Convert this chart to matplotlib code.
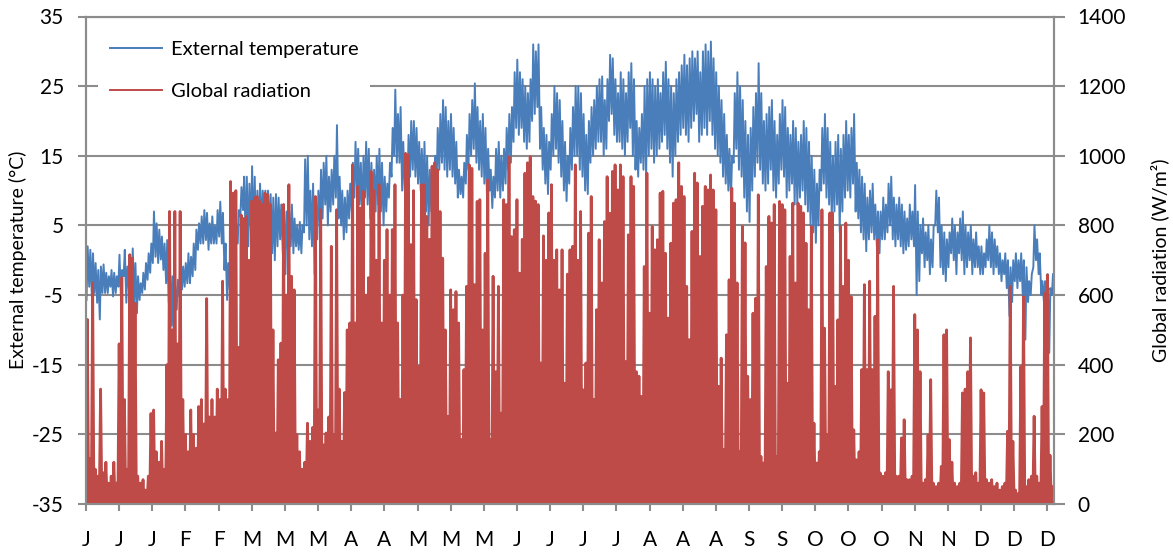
import numpy as np
import matplotlib.pyplot as plt

plt.rcParams['font.family'] = ['Lato', 'DejaVu Sans']
plt.rcParams['axes.unicode_minus'] = False

# daily maximum temperature (degC), day 0 = 1 Jan
t_max = [2.0, 1.5, 1.0, -0.4, -1.4, -0.9, -0.6, -1.8, -2.3, -1.4,
         -1.8, -2.3, 0.8, -1.4, 1.5, -0.9, -1.8, 1.7, -0.4, -2.3,
         -3.3, -1.8, -0.4, 1.0, 2.4, 7.0, 5.3, 4.4, 3.4, 2.4,
         2.9, -0.4, -2.3, -3.7, -2.8, -1.4, -0.9, -0.4, 1.0, 0.5,
         2.4, 4.4, 5.3, 6.3, 7.2, 6.8, 5.3, 6.3, 4.9, 7.2,
         8.4, 6.8, 2.4, -0.4, 1.5, 2.9, 5.3, 7.2, 10.5, 12.0,
         12, 11, 13.5, 12, 10, 11, 10, 10, 10, 9.5,
         9, 9.5, 9, 8, 8, 7, 7, 8, 6, 5,
         5.5, 5, 14.5, 15, 10, 11, 9, 10, 13, 14,
         15, 12, 13, 15, 19.4, 12, 10, 9, 10, 11,
         14, 17, 16, 14, 15, 17, 16, 14, 13, 15,
         16, 14, 12, 11, 14, 19, 24.5, 21, 22, 17,
         14, 18, 20, 20, 19, 17, 16, 17, 15, 13,
         12, 15, 19, 21, 23, 22, 20, 21, 19, 17,
         13, 12, 14, 18, 21, 23, 25.4, 22, 20, 21,
         19, 16, 13, 12, 16, 17, 15, 16, 19, 21,
         22, 27, 28.8, 27, 26, 25, 24, 26, 31, 30,
         31, 22, 19, 18, 17, 21, 25, 24, 23, 20,
         17, 15, 19, 22, 25, 25, 24, 21, 18, 20,
         22, 23, 25, 26, 26.4, 23, 26, 29.5, 29, 26,
         24, 27, 26, 24, 27, 28.3, 26, 20, 19, 21,
         25, 26, 27, 26, 25, 26, 24, 27, 28.5, 26,
         25, 24, 26, 27, 28, 29.5, 28, 29, 30, 29,
         30, 27, 30, 31, 30, 31.4, 29, 27, 25, 23,
         21, 18, 16, 15, 24, 27, 25, 23, 20, 18,
         19, 22, 24, 28.3, 24, 20, 21, 22, 23, 20,
         18, 21, 23, 22, 19, 18, 20, 19, 17, 18,
         20, 19, 17, 15, 13, 11, 13, 19, 21, 19,
         17, 15, 17, 18, 16, 18, 20, 18, 19, 21,
         14, 13, 12, 11, 9, 10, 11, 8, 7, 7,
         9, 8, 11, 12, 9, 8, 9, 8, 7, 6,
         8, 7, 10.8, 7, 5, 6, 4, 5, 3, 5,
         10, 9, 5, 4, 3, 4, 6, 5, 4, 6,
         7, 5, 4, 5, 3, 4, 2, 2, 1, 3,
         5, 4, 3, 2, 1, 0, 1, 0, -1, 0,
         1, 0, 1, 0, -1, -3, -2, 5, 3, 1,
         -3, -3, -2, -4, -2]

# daily minimum temperature (degC)
t_min = [-5.7, -3.8, -5.2, -4.7, -6.1, -8.5, -4.7, -4.7, -4.7, -3.8,
         -5.2, -4.7, -3.8, -5.7, -2.3, -6.1, -4.2, -4.2, -6.1, -7.6,
         -5.7, -4.7, -4.2, -2.8, -1.8, -0.4, 0.5, -0.4, 0.1, -1.4,
         -3.3, -6.1, -9.4, -13.1, -7.1, -5.2, -4.2, -3.8, -3.3, -3.3,
         -2.3, -1.4, 1.5, 2.4, 2.4, 2.9, 1.5, 2.4, 2.4, 2.4,
         3.4, 2.4, -1.4, -5.7, -4.2, -1.4, 0.5, 2.4, 6.3, 7.2,
         3, 2, 4, 2, 0, 3, 4, 3, 2, 4,
         1, 0, 2, 3, 1, -2, 1, 2, 1, 2,
         1.5, 1, 4, 5, 3, 2, -2, 3, 5, 6,
         8, 5, 7, 8, 9, 6, 5, 3, 4, 6,
         7, 9, 10, 8, 6, 9, 8, 6, 5, 7,
         8, 7, 5, 7, 9, 12, 15, 14, 14, 10,
         10, 10, 12, 13, 12, 11, 10, 9, 7, 5,
         7, 9, 11, 13, 14, 13, 12, 13, 12, 11,
         9, 9.5, 9, 11, 13, 15, 16, 14, 13, 12,
         11, 9, 10, 7.5, 9, 10, 9, 10, 11, 13,
         14, 17, 19, 18, 19, 17, 16, 17, 20, 21,
         22, 16, 13, 11, 9.5, 13, 15, 16, 14, 12,
         10, 8.5, 11, 13, 15, 15, 13, 12, 10, 9.5,
         14, 15, 16, 17, 17, 15, 16, 20, 21, 18,
         17, 17, 16, 15, 17, 19, 15, 13, 12, 14,
         13, 12, 15, 16, 14, 15, 16, 17, 18, 16,
         14, 12, 15, 17, 18, 19, 18, 17, 19, 20,
         21, 17, 18, 19, 18, 20, 18, 16, 15, 14,
         12, 11, 10, 9, 14, 16, 13, 12, 9, 7,
         5.5, 10, 12, 14, 13, 11, 10, 11, 13, 10,
         9, 11, 13, 12, 9, 10, 11, 8, 8, 9,
         10, 8, 7, 5, 4, 2.5, 5, 10, 11, 9,
         8, 6, 7, 8, 4, 7, 9, 10, 9, 11,
         7, 6, 4, 3, 1.3, 3, 4, 3, 2, 1,
         3, 3, 4, 5, 3, 2, 3, 2, 1, 1.5,
         2, 3, 2, -5, -3, 1, -1, 0, -2, -1,
         5, 4, -1, -2, -3, -1, 1, 0, -2, 1,
         0, -2, -1, 0, -2, -1, -1, -2, -2, -1,
         0, -1, -2, -1, -2, -3, -2, -4, -8, -6,
         -3, -4, -3, -5, -11.4, -6, -5, -1, 0, -2,
         -5, -6, -5, -13.3, -5]

# daily peak of global radiation (W/m2)
rad_peak = [530, 130, 635, 100, 80, 330, 90, 120, 60, 80,
            120, 60, 460, 650, 300, 100, 716, 706, 577, 80,
            60, 70, 40, 80, 260, 270, 150, 120, 180, 100,
            400, 840, 500, 840, 460, 840, 300, 200, 150, 270,
            200, 160, 280, 300, 230, 590, 250, 300, 250, 330,
            300, 640, 330, 300, 926, 893, 900, 450, 830, 820,
            826, 700, 870, 880, 883, 870, 860, 893, 888, 860,
            500, 204, 414, 462, 860, 600, 917, 654, 615, 200,
            150, 100, 120, 232, 180, 220, 883, 270, 845, 170,
            204, 250, 740, 200, 845, 330, 180, 320, 500, 520,
            974, 520, 912, 850, 898, 600, 650, 955, 900, 700,
            917, 520, 700, 788, 600, 788, 917, 520, 300, 600,
            1007, 1003, 745, 900, 587, 395, 917, 917, 826, 760,
            970, 980, 960, 840, 706, 500, 252, 615, 558, 610,
            520, 185, 386, 625, 974, 964, 630, 869, 874, 500,
            720, 931, 185, 654, 380, 625, 261, 874, 860, 998,
            768, 788, 874, 663, 760, 950, 980, 998, 883, 870,
            860, 405, 770, 700, 836, 917, 700, 730, 615, 730,
            347, 660, 730, 740, 974, 700, 840, 328, 405, 778,
            883, 300, 558, 759, 635, 811, 940, 835, 955, 974,
            902, 974, 940, 409, 773, 940, 912, 380, 367, 309,
            682, 950, 548, 797, 730, 759, 893, 898, 720, 534,
            749, 864, 874, 980, 912, 883, 625, 472, 783, 950,
            922, 711, 855, 912, 902, 945, 902, 845, 338, 419,
            156, 486, 644, 907, 864, 635, 151, 797, 750, 367,
            300, 548, 591, 888, 137, 118, 682, 826, 807, 860,
            137, 869, 860, 845, 347, 711, 864, 635, 864, 855,
            836, 749, 558, 797, 232, 118, 150, 845, 505, 200,
            836, 836, 338, 529, 797, 625, 807, 700, 596, 213,
            127, 150, 386, 630, 386, 640, 386, 539, 759, 89,
            80, 90, 380, 328, 625, 80, 80, 190, 242, 70,
            70, 80, 544, 500, 380, 60, 70, 199, 357, 60,
            50, 60, 108, 486, 500, 185, 120, 60, 50, 60,
            319, 330, 380, 477, 80, 90, 60, 328, 319, 70,
            60, 70, 50, 60, 40, 50, 60, 209, 625, 180,
            40, 30, 395, 596, 50, 70, 80, 252, 80, 60,
            280, 606, 658, 140, 50]

# one label every 300 hours
month_letters = ['J', 'J', 'J', 'F', 'F', 'M', 'M', 'M', 'A', 'A',
                 'M', 'M', 'M', 'J', 'J', 'J', 'J', 'A', 'A', 'A',
                 'S', 'S', 'O', 'O', 'O', 'N', 'N', 'D', 'D', 'D']

days = np.arange(len(t_max))
# low in the early morning, high in the afternoon
t_hours = np.column_stack([days * 24 + 5, days * 24 + 15]).ravel()
t_vals = np.column_stack([t_min, t_max]).ravel()
# radiation is zero at night, peaks at noon
r_hours = np.append(np.column_stack([days * 24, days * 24 + 12]).ravel(), 8760)
r_vals = np.append(np.column_stack([np.zeros(len(days)), rad_peak]).ravel(), 0)

grey = '#8c8c8c'
red = '#be4b48'
fig = plt.figure(figsize=(11.73, 5.56), dpi=100)
ax = fig.add_axes([86 / 1173, 52 / 556, 968 / 1173, 487.5 / 556])
ax2 = ax.twinx()

l1, = ax.plot(t_hours, t_vals, color='#4a7ebb', lw=1.4, label='External temperature')
ax2.fill_between(r_hours, r_vals, color=red, lw=0)
l2, = ax2.plot(r_hours, r_vals, color=red, lw=2.0, label='Global radiation')

ax.set_xlim(0, 8760)
ax.set_ylim(-35, 35)
ax.set_yticks(range(-35, 36, 10))
ax2.set_ylim(0, 1400)
ax2.set_yticks(range(0, 1401, 200))
ax.set_xticks(np.arange(0, 8760, 300))
ax.set_xticklabels(month_letters)

ax.yaxis.grid(True, color=grey, lw=1.5)
ax.set_axisbelow(True)
for a in (ax, ax2):
    for s in a.spines.values():
        s.set_color(grey)
        s.set_linewidth(1.5)
ax.tick_params(axis='y', direction='out', length=6, width=1.5, color=grey, pad=10, labelsize=15)
ax.tick_params(axis='x', direction='out', length=5, width=1.5, color=grey, pad=14, labelsize=15)
ax2.tick_params(axis='y', direction='out', length=8, width=1.5, color=grey, pad=9, labelsize=15)

ax.set_ylabel('External temperature (°C)', fontsize=14)
ax.yaxis.set_label_coords(-0.061, 0.5)
ax2.set_ylabel('Global radiation (W/m²)', fontsize=14, rotation=90)
ax2.yaxis.set_label_coords(1.099, 0.5)

leg = ax2.legend([l1, l2], [l1.get_label(), l2.get_label()], loc='upper left',
                 bbox_to_anchor=(0.002, 0.996), fontsize=14.5, handlelength=2.6,
                 handletextpad=0.4, labelspacing=1.25, borderpad=0.6,
                 fancybox=False, framealpha=1, facecolor='white', edgecolor='none')
for h in leg.get_lines():
    h.set_linewidth(1.4)

fig.savefig('out.png', dpi=100)
